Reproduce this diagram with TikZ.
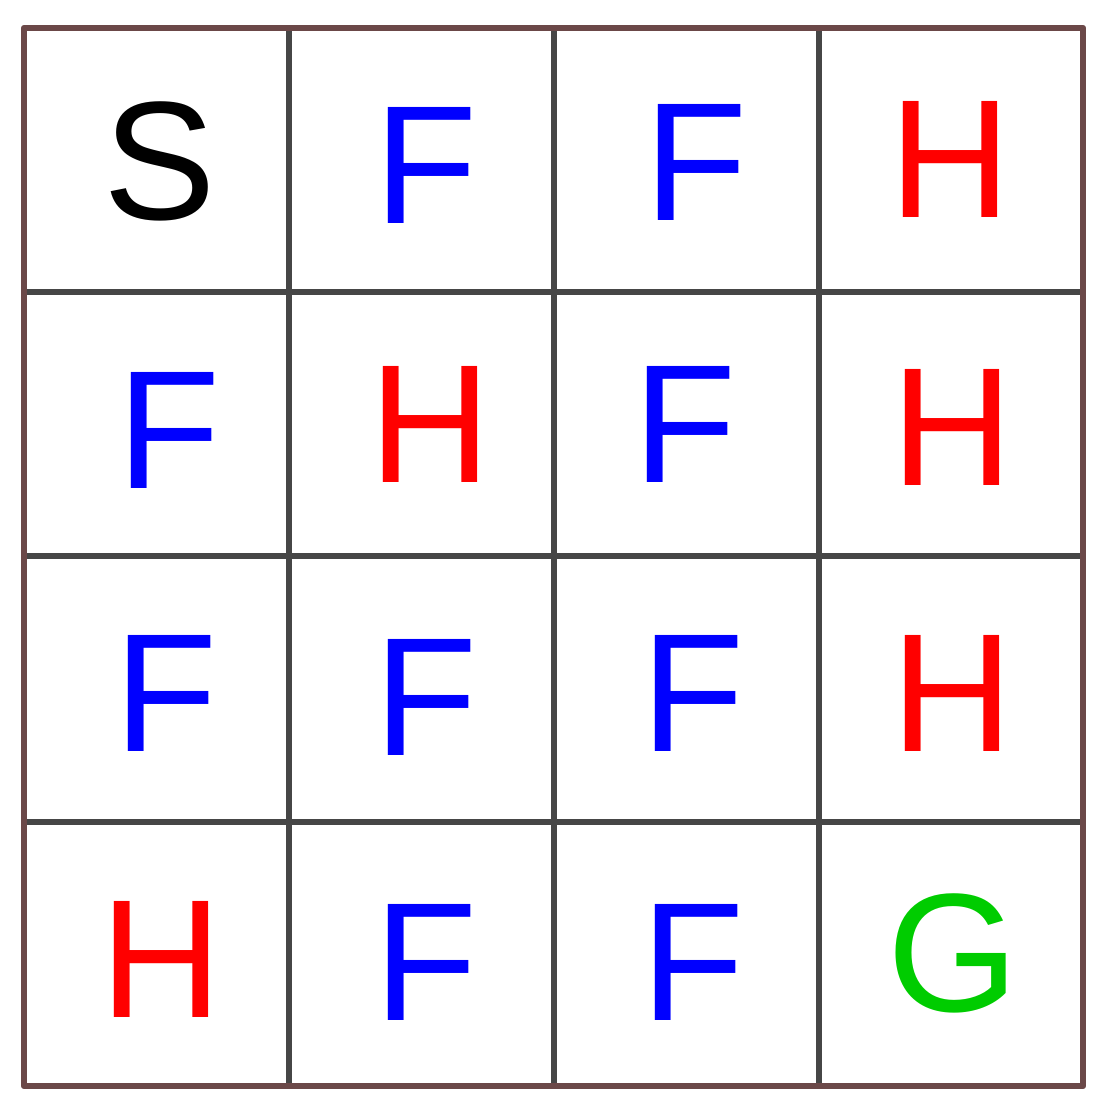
\documentclass[tikz,border=0pt]{standalone}
\usepackage{fontspec}
\setmainfont{Liberation Sans}
\usepackage{tikz}

\definecolor{gridgray}{HTML}{464646}
\definecolor{rimbrown}{HTML}{6B4848}
\definecolor{goalgreen}{HTML}{00CC00}

\tikzset{
    tile/.style={font=\fontsize{48}{52}\selectfont, inner sep=0pt},
}

\begin{document}
\begin{tikzpicture}
    \useasboundingbox (0,0) rectangle (11.15,11.15);
    \draw[gridgray, line width=1.8pt] (2.89,0.29) -- (2.89,10.87);
    \draw[gridgray, line width=1.8pt] (5.54,0.29) -- (5.54,10.87);
    \draw[gridgray, line width=1.8pt] (8.19,0.29) -- (8.19,10.87);
    \draw[gridgray, line width=1.8pt] (0.24,8.23) -- (10.83,8.23);
    \draw[gridgray, line width=1.8pt] (0.24,5.59) -- (10.83,5.59);
    \draw[gridgray, line width=1.8pt] (0.24,2.93) -- (10.83,2.93);
    \draw[rimbrown, line width=1.8pt, line join=round] (0.24,0.29) rectangle (10.83,10.87);
    \node[tile, black] (s11) at (1.60,9.54) {S};
    \node[tile, blue] (f12) at (4.26,9.50) {F};
    \node[tile, blue] (f13) at (6.96,9.53) {F};
    \node[tile, red] (h14) at (9.50,9.56) {H};
    \node[tile, blue] (f21) at (1.69,6.85) {F};
    \node[tile, red] (h22) at (4.30,6.91) {H};
    \node[tile, blue] (f23) at (6.85,6.91) {F};
    \node[tile, red] (h24) at (9.52,6.88) {H};
    \node[tile, blue] (f31) at (1.66,4.22) {F};
    \node[tile, blue] (f32) at (4.26,4.18) {F};
    \node[tile, blue] (f33) at (6.93,4.22) {F};
    \node[tile, red] (h34) at (9.52,4.22) {H};
    \node[tile, red] (h41) at (1.61,1.56) {H};
    \node[tile, blue] (f42) at (4.26,1.53) {F};
    \node[tile, blue] (f43) at (6.93,1.53) {F};
    \node[tile, goalgreen] (g44) at (9.53,1.62) {G};
\end{tikzpicture}
\end{document}
